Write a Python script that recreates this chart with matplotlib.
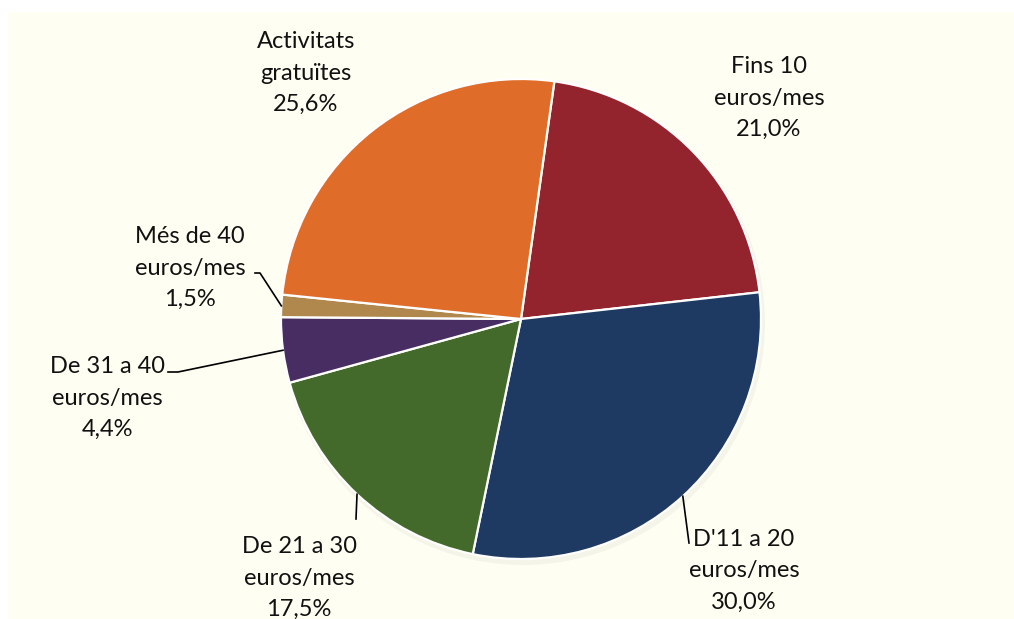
import numpy as np
import matplotlib.pyplot as plt
from matplotlib.patches import Rectangle, Circle

# dades (percentatges)
labels = ["Fins 10\neuros/mes", "D'11 a 20\neuros/mes", "De 21 a 30\neuros/mes",
          "De 31 a 40\neuros/mes", "Més de 40\neuros/mes", "Activitats\ngratuïtes"]
values = [21.0, 30.0, 17.5, 4.4, 1.5, 25.6]
colors = ["#93242E", "#1E3A63", "#436A2B", "#472D62", "#B0884E", "#E06C2A"]

W, H = 1014, 619
plt.rcParams['font.family'] = ['Lato', 'DejaVu Sans']

fig = plt.figure(figsize=(W / 100, H / 100), dpi=100, facecolor="white")
ax = fig.add_axes([0, 0, 1, 1])
ax.add_patch(Rectangle((8, 0), W - 8, H - 12, facecolor="#FFFEF2", edgecolor="none", zorder=0))

cx, cy, r = 521, H - 319, 240
# ombra suau
ax.add_patch(Circle((cx + 2, cy - 4), r + 2, facecolor="#000000", alpha=0.04, edgecolor="none", zorder=1))

wedges, _ = ax.pie(values, colors=colors, startangle=82, counterclock=False,
                   center=(cx, cy), radius=r,
                   wedgeprops=dict(edgecolor="white", linewidth=1.6, zorder=2))

# posicions de les etiquetes (px) i línies guia
label_pos = [(769, 98), (744, 571), (299, 578), (107, 398), (190, 268), (306, 73)]
leaders = {1: [(689, 543)], 2: [(356, 519)], 3: [(178, 372), (168, 372)], 4: [(260, 273), (255, 273)]}

for i, (w, lab, v) in enumerate(zip(wedges, labels, values)):
    x, y = label_pos[i]
    txt = lab + "\n" + f"{v:.1f}%".replace(".", ",")
    ax.text(x, H - y, txt, ha="center", va="center", fontsize=17,
            linespacing=1.6, color="#111111", zorder=4)
    if i in leaders:
        ang = np.deg2rad((w.theta1 + w.theta2) / 2)
        pts = [(cx + r * np.cos(ang), cy + r * np.sin(ang))] + [(px, H - py) for px, py in leaders[i]]
        xs, ys = zip(*pts)
        ax.plot(xs, ys, color="black", linewidth=1.2, zorder=3)

ax.set_xlim(0, W)
ax.set_ylim(0, H)
ax.set_aspect("auto")
ax.axis("off")

fig.savefig("out.png", dpi=100, facecolor="white")
